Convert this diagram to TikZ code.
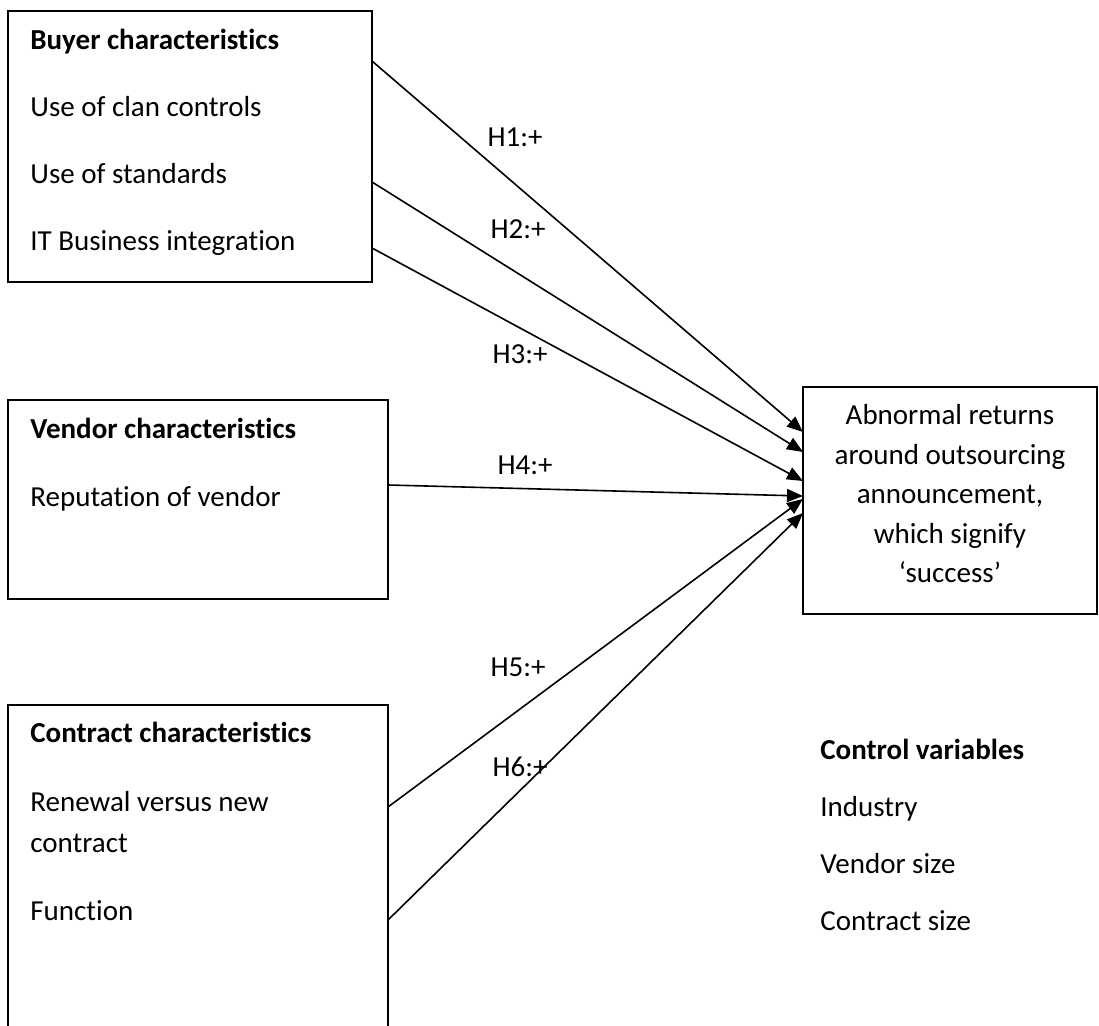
\documentclass[tikz,border=0pt]{standalone}
\usepackage{fontspec}
\setmainfont{Carlito}[Ligatures={NoCommon,NoContextual}]
\usetikzlibrary{arrows.meta}
\tikzset{
  box/.style={draw=black, line width=1pt, inner sep=0pt, outer sep=0pt, fill=none},
  txt/.style={anchor=base west, inner sep=0pt, font=\fontsize{14.5pt}{17pt}\selectfont},
  ctxt/.style={anchor=base, inner sep=0pt, font=\fontsize{14.5pt}{17pt}\selectfont},
  hdr/.style={txt, font=\fontsize{14.5pt}{17pt}\selectfont\bfseries},
  lbl/.style={anchor=center, inner sep=0pt, font=\fontsize{14.5pt}{17pt}\selectfont},
  conn/.style={draw=black, line width=0.8pt, -{Triangle[length=8pt,width=6.5pt]}}
}
\begin{document}
\begin{tikzpicture}[x=0.5pt, y=-0.5pt]
\clip (0,0) rectangle (1099,1026);
\fill[white] (0,0) rectangle (1099,1026);

% boxes
\node[box, minimum width=182pt, minimum height=135.5pt] (buyer) at (190,146.5) {};
\node[box, minimum width=190pt, minimum height=99.5pt] (vendor) at (198,499.5) {};
\node[box, minimum width=190pt, minimum height=167.5pt] (contract) at (198,872.5) {};
\node[box, minimum width=147pt, minimum height=113.5pt] (target) at (950,500.5) {};

% buyer texts
\node[hdr] (bh) at (30,50) {Buyer characteristics};
\node[txt] (b1) at (30,117) {Use of clan controls};
\node[txt] (b2) at (30,184) {Use of standards};
\node[txt] (b3) at (30,251) {IT Business integration};

% vendor texts
\node[hdr] (vh) at (30,439) {Vendor characteristics};
\node[txt] (v1) at (30,507) {Reputation of vendor};

% contract texts
\node[hdr] (ch) at (30,743) {Contract characteristics};
\node[txt] (c1) at (30,812) {Renewal versus new};
\node[txt] (c1b) at (30,852) {contract};
\node[txt] (c2) at (30,920) {Function};

% target texts
\node[ctxt] (t1) at (950,425) {Abnormal returns};
\node[ctxt] (t2) at (950,464.5) {around outsourcing};
\node[ctxt] (t3) at (950,504) {announcement,};
\node[ctxt] (t4) at (950,543.5) {which signify};
\node[ctxt] (t5) at (950,583) {‘success’};

% control variables
\node[hdr] (cv) at (820,760) {Control variables};
\node[txt] (cv1) at (820,816) {Industry};
\node[txt] (cv2) at (820,873) {Vendor size};
\node[txt] (cv3) at (820,930) {Contract size};

% connector endpoints
\coordinate (s1) at (buyer.east |- 0,61);
\coordinate (s2) at (buyer.east |- 0,182);
\coordinate (s3) at (buyer.east |- 0,248);
\coordinate (s4) at (vendor.east |- 0,485);
\coordinate (s5) at (contract.east |- 0,807);
\coordinate (s6) at (contract.east |- 0,920);
\coordinate (e1) at (target.west |- 0,432);
\coordinate (e2) at (target.west |- 0,452);
\coordinate (e3) at (target.west |- 0,481);
\coordinate (e4) at (target.west |- 0,496);
\coordinate (e5) at (target.west |- 0,499);
\coordinate (e6) at (target.west |- 0,513);

\draw[conn] (s1) -- (e1);
\draw[conn] (s2) -- (e2);
\draw[conn] (s3) -- (e3);
\draw[conn] (s4) -- (e4);
\draw[conn] (s5) -- (e5);
\draw[conn] (s6) -- (e6);

% labels
\node[lbl] (h1) at (515,137) {H1:+};
\node[lbl] (h2) at (518,229) {H2:+};
\node[lbl] (h3) at (520,354) {H3:+};
\node[lbl] (h4) at (525,465) {H4:+};
\node[lbl] (h5) at (518,667) {H5:+};
\node[lbl] (h6) at (520,767) {H6:+};
\end{tikzpicture}
\end{document}
